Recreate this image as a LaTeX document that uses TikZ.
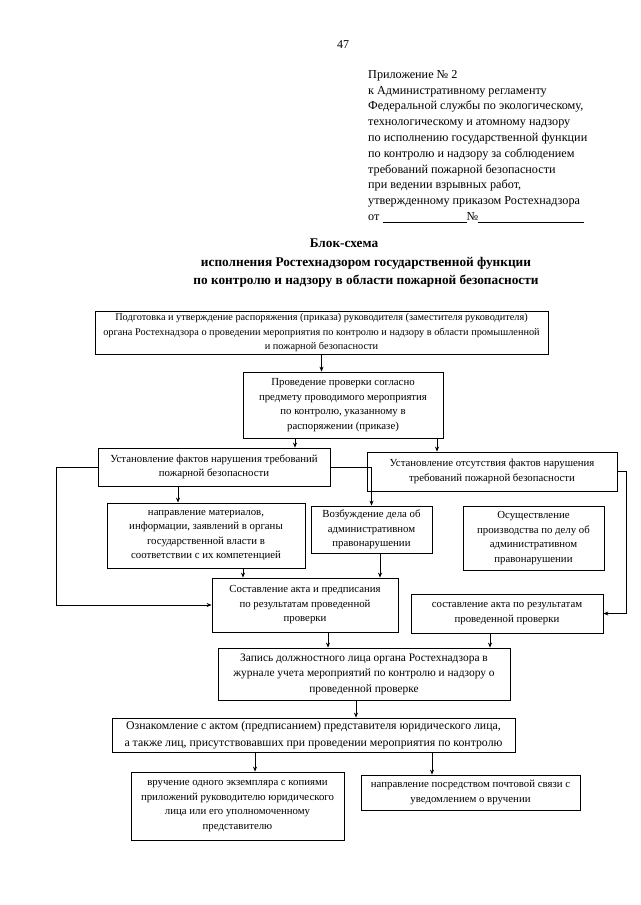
\documentclass[tikz,border=0pt]{standalone}
\usepackage{fontspec}
\setmainfont{Liberation Serif}
\usetikzlibrary{arrows.meta}

\tikzset{
  blk/.style={draw, line width=0.8pt, align=center, inner sep=2pt,
    font=\fontsize{10.8}{14.5}\selectfont},
  arr/.style={line width=0.8pt, -{Stealth[length=5pt,width=4pt]}}
}

\begin{document}
\begin{tikzpicture}[x=1pt,y=-1pt]
		\useasboundingbox (0,0) rectangle (640,905);
		
		% Page number and header
		\node[font=\fontsize{12}{14}\selectfont] (pnum) at (343,45) {47};
		\node[anchor=north west, align=left, inner sep=0pt,
		  font=\fontsize{12.2}{15.8}\selectfont] (hdr) at (368,70)
		  {Приложение № 2\\
		   к Административному регламенту\\
		   Федеральной службы по экологическому,\\
		   технологическому и атомному надзору\\
		   по исполнению государственной функции\\
		   по контролю и надзору за соблюдением\\
		   требований пожарной безопасности\\
		   при ведении взрывных работ,\\
		   утвержденному приказом Ростехнадзора\\
		   от \underline{\hspace{84pt}}№\underline{\hspace{106pt}}};
		
		% Title
		\node[font=\fontsize{13.3}{18.5}\bfseries] (ttlhead) at (344,243) {Блок-схема};
		\node[anchor=north, align=center, inner sep=0pt,
		  font=\fontsize{13.3}{18.5}\bfseries] (ttl) at (366,257)
		  {исполнения Ростехнадзором государственной функции\\
		   по контролю и надзору в области пожарной безопасности};
		
		% Boxes
		\node[blk, minimum width=453, minimum height=40,
		  font=\fontsize{10.3}{14.5}\selectfont] (b1) at (321.5,333)
		  {Подготовка и утверждение распоряжения (приказа) руководителя (заместителя руководителя)\\
		   органа Ростехнадзора о проведении мероприятия по контролю и надзору в области промышленной\\
		   и пожарной безопасности};
		\node[blk, minimum width=200, minimum height=66] (b2) at (343,405)
		  {Проведение проверки согласно\\ предмету проводимого мероприятия\\
		   по контролю, указанному в\\ распоряжении (приказе)};
		\node[blk, minimum width=232, minimum height=38] (b3) at (214,467)
		  {Установление фактов нарушения требований\\ пожарной безопасности};
		\node[blk, minimum width=250, minimum height=39] (b4) at (492,471.5)
		  {Установление отсутствия фактов нарушения\\ требований пожарной безопасности};
		\node[blk, minimum width=198, minimum height=65] (b5) at (206,535.5)
		  {направление материалов,\\ информации, заявлений в органы\\
		   государственной власти в\\ соответствии с их компетенцией};
		\node[blk, minimum width=121, minimum height=47] (b6) at (371.5,529.5)
		  {Возбуждение дела об\\ административном\\ правонарушении};
		\node[blk, minimum width=141, minimum height=64] (b7) at (533.5,538)
		  {Осуществление\\ производства по делу об\\ административном\\ правонарушении};
		\node[blk, minimum width=186, minimum height=54] (b8) at (305,605)
		  {Составление акта и предписания\\ по результатам проведенной\\ проверки};
		\node[blk, minimum width=192, minimum height=39] (b9) at (507,613.5)
		  {составление акта по результатам\\ проведенной проверки};
		\node[blk, minimum width=292, minimum height=52,
		  font=\fontsize{11.4}{15.5}\selectfont] (b10) at (364,674)
		  {Запись должностного лица органа Ростехнадзора в\\
		   журнале учета мероприятий по контролю и надзору о\\ проведенной проверке};
		\node[blk, minimum width=403, minimum height=34,
		  font=\fontsize{11.8}{16.5}\selectfont] (b11) at (313.5,735)
		  {Ознакомление с актом (предписанием) представителя юридического лица,\\
		   а также лиц, присутствовавших при проведении мероприятия по контролю};
		\node[blk, minimum width=213, minimum height=68] (b12) at (237.5,806)
		  {вручение одного экземпляра с копиями\\ приложений руководителю юридического\\
		   лица или его уполномоченному\\ представителю};
		\node[blk, minimum width=219, minimum height=35] (b13) at (470.5,792.5)
		  {направление посредством почтовой связи с\\ уведомлением о вручении};
		
		% Arrows
		\draw[arr] (b1.south) -- (b1.south |- b2.north);
		\draw[arr] ([xshift=-48pt]b2.south) -- ([xshift=-48pt]b2.south |- b3.north);
		\draw[arr] ([xshift=94pt]b2.south) -- ([xshift=94pt]b2.south |- b4.north);
		\draw[arr] ([xshift=-36pt]b3.south) -- ([xshift=-36pt]b3.south |- b5.north);
		\draw[arr] (b3.east) -| (b6.north);
		\draw[arr] (b3.west) -- ++(-41,0) |- (b8.west);
		\draw[arr] ([xshift=37pt]b5.south) -- ([xshift=37pt]b5.south |- b8.north);
		\draw[arr] ([xshift=8.5pt]b6.south) -- ([xshift=8.5pt]b6.south |- b8.north);
		\draw[arr] (b4.east) -- ++(9,0) |- (b9.east);
		\draw[arr] ([xshift=23pt]b8.south) -- ([xshift=23pt]b8.south |- b10.north);
		\draw[arr] ([xshift=-17pt]b9.south) -- ([xshift=-17pt]b9.south |- b10.north);
		\draw[arr] ([xshift=-8pt]b10.south) -- ([xshift=-8pt]b10.south |- b11.north);
		\draw[arr] ([xshift=-58.5pt]b11.south) -- ([xshift=-58.5pt]b11.south |- b12.north);
		\draw[arr] ([xshift=118.5pt]b11.south) -- ([xshift=118.5pt]b11.south |- b13.north);
	\end{tikzpicture}
\end{document}
